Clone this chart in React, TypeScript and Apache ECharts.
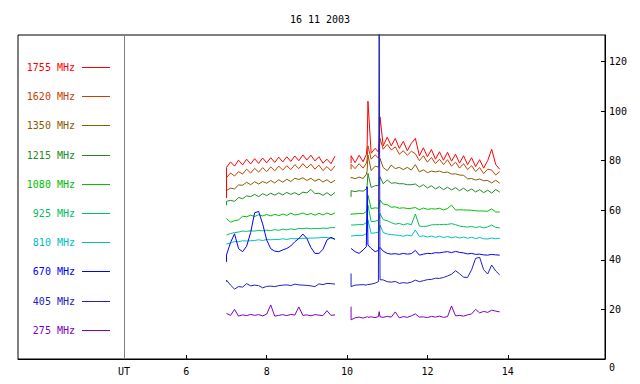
import React, { useEffect, useRef } from "react";
import * as echarts from "echarts";

const FONT = "'DejaVu Sans Mono', monospace";

// Time stamps (UT hours) of the two observation segments
const times1 = [7.0, 7.0, 7.1, 7.2, 7.3, 7.4, 7.5, 7.6, 7.7, 7.8, 7.9, 8.0, 8.1, 8.2, 8.3, 8.4, 8.5, 8.6, 8.7, 8.8, 8.9, 9.0, 9.1, 9.2, 9.3, 9.4, 9.5, 9.6, 9.7];
const times2 = [10.1, 10.1, 10.2, 10.3, 10.4, 10.48, 10.5, 10.52, 10.6, 10.7, 10.78, 10.8, 10.82, 10.9, 11.0, 11.1, 11.2, 11.3, 11.4, 11.5, 11.6, 11.7, 11.8, 11.9, 12.0, 12.1, 12.2, 12.3, 12.4, 12.5, 12.6, 12.7, 12.8, 12.9, 13.0, 13.1, 13.2, 13.3, 13.4, 13.5, 13.6, 13.7, 13.8];

const freqNames = ["1755 MHz", "1620 MHz", "1350 MHz", "1215 MHz", "1080 MHz", "925 MHz", "810 MHz", "670 MHz", "405 MHz", "275 MHz"];
const freqColors = ["#ff0000", "#c84000", "#8c5a00", "#228b22", "#00c000", "#00c060", "#00c0c0", "#0000ff", "#2020c0", "#8000c0"];

const f1755a = [65, 77.3, 79.5, 77.8, 80.2, 78.3, 80.6, 78.7, 80.8, 78.9, 81.1, 79.1, 81.2, 79.3, 81.4, 79.5, 81.6, 79.7, 81.9, 80.0, 82.3, 80.3, 82.2, 79.9, 81.6, 79.0, 80.6, 78.8, 81.8];
const f1755b = [79.0, 82.0, 79.2, 82.2, 79.6, 82.5, 86.0, 104.0, 83.0, 85.0, 83.5, 87.5, 97.7, 86.0, 89.5, 86.0, 89.0, 85.0, 87.8, 84.0, 87.0, 89.0, 82.0, 85.2, 81.6, 84.5, 80.6, 83.6, 80.2, 83.4, 79.8, 82.6, 79.0, 82.0, 78.4, 81.2, 77.6, 80.4, 77.0, 80.0, 84.6, 78.5, 76.5];

const f1620a = [66, 73.2, 75.0, 73.8, 75.6, 74.6, 76.6, 75.0, 76.9, 75.4, 77.2, 75.6, 77.5, 75.9, 77.8, 76.2, 78.0, 76.4, 78.4, 76.8, 78.8, 77.0, 78.6, 76.6, 78.2, 76.0, 77.6, 75.9, 77.9];
const f1620b = [76.5, 78.5, 76.8, 78.8, 77.0, 79.0, 80.5, 86.0, 80.6, 82.4, 81.0, 84.0, 89.0, 84.6, 86.6, 84.3, 85.6, 82.6, 84.0, 82.2, 83.8, 82.8, 80.0, 82.0, 79.4, 81.3, 78.8, 80.6, 78.4, 80.4, 77.8, 79.4, 77.0, 78.8, 76.4, 78.0, 75.6, 77.2, 74.8, 76.6, 76.2, 74.2, 75.6];

const f1350a = [65, 68.0, 68.9, 68.6, 70.2, 70.1, 71.3, 70.3, 71.5, 70.6, 71.6, 70.9, 72.0, 71.0, 72.3, 71.3, 72.5, 71.6, 72.9, 72.4, 73.1, 72.0, 72.9, 71.7, 72.6, 71.4, 72.3, 71.1, 72.1];
const f1350b = [72.9, 73.3, 72.7, 73.4, 72.8, 74.5, 76.0, 82.3, 76.0, 77.8, 77.4, 78.2, 80.9, 77.2, 76.0, 78.2, 76.8, 77.3, 76.4, 77.3, 76.2, 78.4, 75.5, 76.3, 75.2, 75.8, 75.5, 75.8, 75.2, 75.4, 74.6, 74.7, 74.2, 74.1, 72.7, 72.8, 72.2, 72.6, 71.9, 72.0, 71.0, 72.1, 70.9];

const f1215a = [62, 63.6, 64.0, 63.6, 65.1, 64.7, 65.8, 65.5, 66.4, 65.5, 66.7, 65.9, 66.9, 66.1, 67.0, 66.2, 67.2, 66.4, 67.1, 66.2, 67.3, 67.0, 68.4, 66.7, 66.9, 66.0, 67.1, 65.9, 67.2];
const f1215b = [65.4, 67.9, 67.5, 67.9, 67.7, 68.6, 70.0, 74.9, 69.2, 69.9, 70.0, 70.6, 73.5, 70.7, 72.2, 70.9, 71.1, 70.7, 70.7, 70.3, 70.3, 70.6, 69.4, 70.3, 69.0, 69.9, 68.6, 69.5, 68.3, 69.3, 68.2, 69.1, 67.9, 68.9, 67.7, 68.6, 67.4, 68.3, 67.1, 68.1, 66.9, 68.4, 67.3];

const f1080a = [56.7, 56.9, 55.2, 55.8, 56.1, 57.6, 57.4, 58.0, 57.5, 58.2, 57.7, 58.3, 57.7, 58.4, 57.8, 58.5, 57.9, 58.8, 58.1, 58.4, 58.9, 58.2, 58.7, 58.0, 58.8, 58.1, 58.9, 58.2, 58.9];
const f1080b = [58.1, 58.5, 58.5, 58.7, 58.6, 59.5, 60.5, 66.1, 60.6, 61.0, 60.8, 61.6, 64.1, 62.5, 62.2, 61.2, 61.4, 60.8, 61.0, 60.7, 60.8, 61.1, 60.2, 60.9, 60.4, 60.6, 60.5, 60.8, 60.1, 60.7, 62.1, 60.1, 60.2, 60.1, 60.1, 60.0, 59.8, 59.7, 59.7, 59.6, 60.6, 59.3, 59.3];

const f925a = [50.0, 50.1, 50.6, 51.0, 51.2, 51.6, 51.5, 51.7, 51.6, 51.9, 51.7, 52.0, 51.8, 52.2, 51.9, 52.4, 52.1, 52.5, 52.2, 52.7, 52.6, 52.8, 52.5, 52.7, 52.6, 52.8, 52.7, 53.0, 53.0];
const f925b = [54.0, 54.2, 54.1, 54.2, 54.2, 55.0, 56.0, 62.1, 55.4, 55.6, 56.0, 56.5, 58.7, 56.2, 55.8, 55.0, 54.4, 54.7, 54.1, 54.6, 54.2, 58.5, 53.6, 53.5, 53.6, 54.1, 54.2, 54.2, 54.3, 54.3, 54.6, 54.2, 53.6, 53.4, 53.2, 53.5, 53.0, 53.4, 52.9, 53.3, 54.0, 53.1, 52.9];

const f810a = [46.4, 46.5, 46.8, 47.4, 47.3, 47.7, 47.6, 47.7, 47.8, 48.1, 47.8, 48.2, 48.1, 48.2, 48.2, 48.5, 48.2, 48.6, 48.5, 48.6, 48.7, 48.7, 48.8, 48.8, 48.9, 49.0, 49.0, 48.7, 48.3];
const f810b = [49.6, 49.7, 49.8, 49.8, 49.9, 50.6, 51.5, 56.0, 50.7, 50.9, 51.2, 51.8, 54.0, 51.0, 50.4, 50.2, 50.0, 49.9, 49.5, 50.0, 49.6, 52.0, 49.4, 49.7, 49.2, 49.6, 49.1, 49.5, 49.0, 49.4, 48.9, 49.3, 48.8, 49.2, 48.7, 49.1, 48.6, 49.0, 48.5, 48.4, 48.8, 48.5, 48.7];

const f670a = [39.2, 42, 47, 50.5, 44.5, 43.3, 45.5, 51, 59, 59.5, 54.5, 48, 44.5, 43.5, 43.3, 44.0, 44.6, 45.6, 47.3, 48.6, 50.4, 48.6, 45.0, 42.6, 42.6, 44.2, 48.0, 49.1, 48.3];
const f670b = [44.6, 44.6, 43.3, 42.6, 44.0, 45.3, 69.5, 46.0, 44.6, 43.3, 43.8, 44.5, 45.0, 43.5, 42.6, 42.3, 42.5, 42.2, 42.6, 42.3, 42.5, 43.8, 41.9, 42.3, 42.6, 42.5, 42.9, 42.8, 43.1, 43.3, 42.9, 43.4, 43.0, 42.8, 42.4, 42.6, 42.2, 42.3, 42.0, 41.9, 42.2, 42.0, 41.9];

const f405a = [31.2, 31.8, 29.8, 28.2, 29.2, 29.0, 30.4, 29.5, 29.8, 29.6, 28.7, 29.3, 29.4, 29.2, 29.6, 29.8, 29.9, 29.6, 30.2, 29.9, 29.8, 29.7, 29.5, 29.2, 30.3, 30.0, 30.5, 30.4, 30.2];
const f405b = [34.5, 29.2, 29.8, 29.9, 30.0, 29.8, 30.1, 30.0, 30.2, 30.6, 31.2, 140, 32.0, 31.9, 31.2, 31.0, 31.3, 30.5, 30.8, 30.6, 31.0, 31.8, 31.2, 31.6, 32.0, 32.1, 32.6, 32.5, 32.9, 33.5, 34.2, 35.6, 34.4, 33.0, 32.9, 36.0, 40.6, 41.0, 36.0, 34.3, 37.9, 35.5, 33.9];

const f275a = [18.4, 18.4, 17.6, 20.0, 17.3, 17.8, 17.5, 18.0, 17.6, 17.9, 17.4, 18.1, 21.8, 17.3, 17.6, 17.9, 17.5, 18.0, 17.7, 21.0, 17.6, 17.8, 17.4, 17.9, 17.7, 17.5, 19.5, 17.6, 17.8];
const f275b = [21.1, 15.8, 16.6, 16.9, 16.5, 16.9, 17.2, 16.8, 17.0, 16.7, 17.1, 19.1, 17.0, 16.8, 17.2, 16.9, 19.0, 16.6, 17.1, 16.8, 17.4, 18.2, 16.9, 17.0, 16.7, 17.2, 16.9, 17.3, 16.8, 17.1, 21.4, 17.4, 17.6, 17.3, 17.8, 18.2, 20.0, 18.6, 19.2, 18.8, 19.7, 19.3, 19.0];

const seg1 = [f1755a, f1620a, f1350a, f1215a, f1080a, f925a, f810a, f670a, f405a, f275a];
const seg2 = [f1755b, f1620b, f1350b, f1215b, f1080b, f925b, f810b, f670b, f405b, f275b];

// drawing order (later is on top)
const drawOrder = [1, 2, 3, 4, 5, 6, 0, 7, 9, 8];

const xTicks = [6, 8, 10, 12, 14];
const yTicks = [0, 20, 40, 60, 80, 100, 120];
const titleText = "16 11 2003";
const utHour = 4.45;

export default function App() {
  const ref = useRef<HTMLDivElement>(null);
  useEffect(() => {
    const chart = echarts.init(ref.current!, null, { renderer: "svg" });
    const build = (a: number[], b: number[]) => [
      ...times1.map((t, i) => [t, a[i]]),
      [9.9, null],
      ...times2.map((t, i) => [t, b[i]]),
    ];
    const series: any[] = drawOrder.map((k, j) => ({
      type: "line",
      name: freqNames[k],
      data: build(seg1[k], seg2[k]),
      showSymbol: false,
      symbol: "none",
      lineStyle: { width: 1, color: freqColors[k] },
      itemStyle: { color: freqColors[k] },
      silent: true,
      ...(j === 0
        ? {
            markLine: {
              silent: true,
              symbol: ["none", "none"],
              data: [{ xAxis: utHour }],
              lineStyle: { color: "#808080", type: "solid", width: 1 },
              label: {
                show: true,
                position: "start",
                formatter: "UT",
                color: "#000",
                fontFamily: FONT,
                fontSize: 10,
                distance: 7,
              },
            },
          }
        : {}),
    }));

    const graphics: any[] = [];
    freqNames.forEach((n, i) => {
      const y = Math.round(67 + 29.2 * i);
      graphics.push({
        type: "text",
        x: 75,
        y: y + 0.5,
        style: {
          text: n,
          fill: freqColors[i],
          font: `10px ${FONT}`,
          align: "right",
          verticalAlign: "middle",
        },
      });
      graphics.push({
        type: "rect",
        shape: { x: 82, y: y, width: 28, height: 1 },
        style: { fill: freqColors[i], stroke: null },
      });
    });

    chart.setOption({
      animation: false,
      backgroundColor: "#fff",
      title: {
        text: titleText,
        left: "center",
        top: 9,
        textStyle: { fontFamily: FONT, fontSize: 10, fontWeight: "normal", color: "#000" },
      },
      grid: { left: 18, right: 35, top: 35, bottom: 25, show: true, borderColor: "#000", borderWidth: 1 },
      xAxis: {
        type: "value",
        min: 1.81,
        max: 16.42,
        axisLine: { show: true, lineStyle: { color: "#000" } },
        axisTick: { show: true, inside: true, length: 4, customValues: xTicks, lineStyle: { color: "#000" } },
        axisLabel: { customValues: xTicks, margin: 7, color: "#000", fontFamily: FONT, fontSize: 10 },
        splitLine: { show: false },
      },
      yAxis: {
        type: "value",
        position: "right",
        min: 0,
        max: 130.7,
        interval: 20,
        axisLine: { show: true, lineStyle: { color: "#000" } },
        axisTick: { show: true, inside: true, length: 4, customValues: yTicks, lineStyle: { color: "#000" } },
        axisLabel: {
          customValues: yTicks,
          margin: 4,
          color: "#000",
          fontFamily: FONT,
          fontSize: 10,
          formatter: (v: number) => (v === 0 ? "{low|0}" : String(v)),
          rich: { low: { padding: [16, 0, 0, 0], fontFamily: FONT, fontSize: 10, color: "#000" } },
        },
        splitLine: { show: false },
      },
      graphic: graphics,
      series,
    });
    return () => chart.dispose();
  }, []);
  return (
    <div
      ref={ref}
      style={{ position: "fixed", left: 0, top: 0, width: 640, height: 384, background: "#fff" }}
    />
  );
}
